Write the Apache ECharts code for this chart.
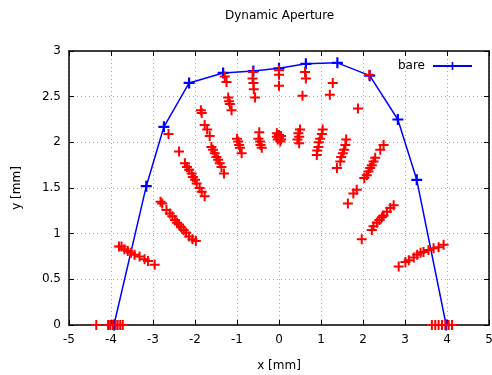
<!DOCTYPE html>
<html>
<head>
<meta charset="utf-8">
<script src="https://cdn.jsdelivr.net/npm/echarts@6/dist/echarts.min.js"></script>
<style>html,body{margin:0;padding:0;background:#fff}#c{width:492px;height:375px}</style>
</head>
<body>
<div id="c"></div>
<script>
// Aperture boundary ("bare")
const bareX = [-3.93, -3.16, -2.74, -2.14, -1.33, -0.61, 0.0, 0.64, 1.39, 2.16, 2.83, 3.28, 3.98];
const bareY = [0.0, 1.52, 2.17, 2.65, 2.76, 2.78, 2.81, 2.86, 2.87, 2.73, 2.25, 1.59, 0.0];

// Tracked particle points (red)
const trackBottom = [[-4.35,0],[-4.07,0],[-4.02,0],[-3.96,0],[-3.89,0],[-3.84,0],[-3.78,0],[-3.72,0],
  [3.64,0],[3.72,0],[3.80,0],[3.88,0],[3.96,0],[4.04,0],[4.12,0]];
const trackLeft = [[-3.81,0.86],[-3.75,0.86],[-3.68,0.83],[-3.60,0.81],[-3.52,0.79],[-3.44,0.77],[-3.32,0.75],[-3.20,0.72],[-3.12,0.70],[-2.96,0.66],
  [-2.82,1.35],[-2.78,1.33],[-2.68,1.26],[-2.60,1.22],[-2.54,1.19],[-2.48,1.15],[-2.43,1.12],[-2.38,1.10],[-2.33,1.07],[-2.27,1.04],[-2.21,1.01],[-2.14,0.97],[-2.06,0.94],[-1.98,0.92],
  [-2.63,2.09],
  [-2.38,1.90],[-2.24,1.77],[-2.19,1.73],[-2.14,1.70],[-2.08,1.66],[-2.05,1.62],[-2.00,1.59],[-1.96,1.55],[-1.89,1.50],[-1.84,1.46],[-1.77,1.41],
  [-1.86,2.35],[-1.84,2.32],[-1.77,2.19],[-1.71,2.14],[-1.65,2.07],
  [-1.61,1.95],[-1.57,1.92],[-1.53,1.88],[-1.49,1.84],[-1.45,1.81],[-1.41,1.77],[-1.37,1.73],[-1.31,1.66],
  [-1.29,2.72],[-1.25,2.66],[-1.21,2.49],[-1.19,2.45],[-1.17,2.42],[-1.13,2.35],
  [-1.00,2.04],[-0.97,2.01],[-0.95,1.97],[-0.93,1.94],[-0.89,1.88],
  [-0.62,2.77],[-0.63,2.70],[-0.61,2.65],[-0.60,2.58],[-0.57,2.49],
  [-0.47,2.11],[-0.49,2.04],[-0.45,2.01],[-0.44,1.97],[-0.41,1.94]];
const trackCenter = [[0,2.79],[0,2.74],[0,2.62],
  [-0.05,2.10],[0.00,2.08],[0.05,2.07],[-0.03,2.03],[0.03,2.01],[0.0,2.05],[0.05,2.03],[-0.05,2.06]];
const trackRight = [[0.62,2.77],[0.64,2.70],[0.56,2.51],
  [0.50,2.14],[0.46,2.10],[0.48,2.06],[0.44,2.03],[0.48,1.99],
  [1.28,2.65],[1.21,2.52],
  [1.04,2.14],[1.02,2.09],[0.98,2.04],[0.95,2.00],[0.94,1.95],[0.91,1.91],[0.90,1.86],
  [1.60,2.03],[1.58,1.97],[1.55,1.92],[1.52,1.88],[1.48,1.84],[1.46,1.79],[1.38,1.72],
  [1.88,2.37],[2.15,2.74],
  [1.64,1.33],[1.77,1.44],[1.85,1.48],
  [2.49,1.97],[2.41,1.92],[2.29,1.83],[2.25,1.79],[2.21,1.75],[2.17,1.72],[2.13,1.68],[2.09,1.64],[2.03,1.61],
  [2.73,1.31],[2.65,1.28],[2.57,1.24],[2.49,1.20],[2.45,1.18],[2.39,1.15],[2.33,1.12],[2.25,1.08],[2.21,1.04],
  [1.97,0.94],
  [3.92,0.88],[3.80,0.85],[3.68,0.84],[3.56,0.82],[3.44,0.80],[3.37,0.79],[3.29,0.77],[3.21,0.74],[3.09,0.71],[3.01,0.69],[2.85,0.64]];

const redPoints = [].concat(trackBottom, trackLeft, trackCenter, trackRight);
const barePoints = bareX.map((x, i) => [x, bareY[i]]);

const PLUS = 'path://M0,4L4,4L4,0L6,0L6,4L10,4L10,6L6,6L6,10L4,10L4,6L0,6Z';
const FONT = 'DejaVu Sans';

const gridLine = {show: true, lineStyle: {color: '#a8a8a8', type: [1, 3], width: 1}};
const axisLine = {show: true, onZero: false, lineStyle: {color: '#000', width: 1.5}};
const tick = {show: true, inside: true, length: 5, lineStyle: {color: '#000', width: 1}};
const lbl = {color: '#000', fontFamily: FONT, fontSize: 12};

const chart = echarts.init(document.getElementById('c'), null, {renderer: 'canvas'});
chart.setOption({
  animation: false,
  backgroundColor: '#fff',
  title: {text: 'Dynamic Aperture', left: 220, top: 5,
    textStyle: {fontFamily: FONT, fontSize: 12, fontWeight: 'normal', color: '#000'}},
  legend: {data: ['bare'], align: 'right', right: 19, top: 60, padding: 0,
    itemWidth: 39, itemHeight: 10, itemGap: 10,
    textStyle: {fontFamily: FONT, fontSize: 12, color: '#000', padding: [0, 3, 0, 0]}},
  grid: {left: 69, right: 3, top: 51, bottom: 50, show: false, containLabel: false, outerBoundsMode: 'none'},
  xAxis: [
    {type: 'value', min: -5, max: 5, interval: 1, position: 'bottom',
     name: 'x [mm]', nameLocation: 'middle', nameGap: 35,
     nameTextStyle: {fontFamily: FONT, fontSize: 12, color: '#000'},
     axisLine: axisLine, axisTick: tick, axisLabel: Object.assign({margin: 9}, lbl), splitLine: gridLine},
    {type: 'value', min: -5, max: 5, interval: 1, position: 'top',
     axisLine: axisLine, axisTick: tick, axisLabel: {show: false}, splitLine: {show: false}}
  ],
  yAxis: [
    {type: 'value', min: 0, max: 3, interval: 0.5, position: 'left',
     name: 'y [mm]', nameLocation: 'middle', nameGap: 46,
     nameTextStyle: {fontFamily: FONT, fontSize: 12, color: '#000'},
     axisLine: axisLine, axisTick: tick, axisLabel: Object.assign({margin: 8}, lbl), splitLine: gridLine},
    {type: 'value', min: 0, max: 3, interval: 0.5, position: 'right',
     axisLine: axisLine, axisTick: tick, axisLabel: {show: false}, splitLine: {show: false}}
  ],
  series: [
    {name: 'bare', type: 'line', data: barePoints, symbol: PLUS, symbolSize: 11,
     showAllSymbol: true, lineStyle: {color: '#0000ff', width: 1.5},
     itemStyle: {color: '#0000ff'}, z: 2},
    {name: 'track', type: 'scatter', data: redPoints, symbol: PLUS, symbolSize: 10,
     itemStyle: {color: '#ff0000', opacity: 1}, z: 3}
  ]
});
</script>
</body>
</html>
